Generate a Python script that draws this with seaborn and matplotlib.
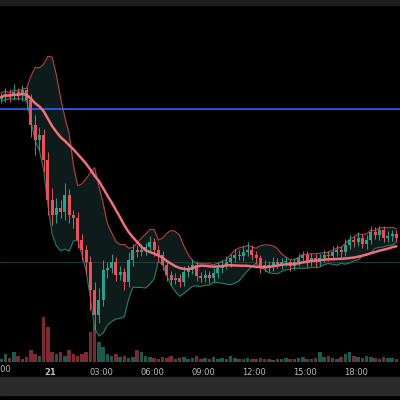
import numpy as np
import pandas as pd
import matplotlib
matplotlib.use("Agg")
import matplotlib.pyplot as plt
import seaborn as sns
from matplotlib.patches import Rectangle

# close prices (chart units, 15-min candles starting 21:00)
close_y = [97, 94, 96, 92, 95, 90, 100, 125, 140, 135, 160, 200, 215, 208, 212, 195,
           215, 218, 240, 250, 262, 290, 315, 300, 270, 268, 262, 275, 272, 282, 260, 250,
           252, 250, 247, 242, 250, 255, 265, 275, 280, 278, 282, 272, 270, 265, 276, 278,
           275, 278, 273, 268, 265, 262, 258, 255, 256, 252, 250, 255, 258, 268, 265, 267,
           262, 264, 262, 262, 266, 262, 258, 255, 262, 258, 262, 258, 255, 256, 252, 250,
           252, 245, 240, 242, 238, 244, 240, 232, 235, 230, 238, 236, 234, 238]
wick_up = [4, 6, 5, 8, 4, 5, 3, 6, 10, 8, 6, 8, 12, 10, 8, 12, 6, 5, 6, 6, 5, 6, 8, 12,
           10, 6, 8, 5, 6, 4, 8, 6, 5, 6, 4, 6, 4, 5, 4, 3, 4, 5, 4, 6, 5, 6, 4, 4,
           5, 4, 5, 6, 5, 6, 4, 6, 5, 6, 8, 5, 4, 3, 5, 4, 5, 4, 4, 5, 3, 4, 5, 4,
           4, 5, 4, 4, 5, 4, 6, 5, 4, 6, 5, 4, 6, 4, 5, 6, 5, 4, 4, 5, 4, 4]
wick_dn = [4, 5, 6, 4, 5, 6, 10, 12, 15, 10, 12, 15, 10, 8, 6, 8, 8, 10, 8, 10, 12, 20, 15, 8,
           6, 8, 5, 6, 5, 8, 5, 6, 5, 4, 5, 5, 6, 6, 5, 6, 5, 4, 5, 4, 5, 4, 5, 4,
           4, 5, 4, 5, 5, 4, 5, 4, 4, 5, 4, 5, 6, 5, 4, 5, 4, 4, 5, 4, 5, 4, 4, 5,
           5, 4, 5, 4, 4, 5, 4, 4, 5, 4, 4, 5, 4, 4, 5, 4, 4, 5, 4, 4, 5, 4]
volume = [3, 8, 4, 10, 6, 3, 5, 12, 8, 6, 45, 35, 10, 8, 10, 6, 12, 8, 6, 8, 10, 30, 40, 20,
          15, 8, 6, 8, 5, 6, 4, 5, 12, 10, 6, 5, 4, 3, 5, 4, 6, 3, 4, 5, 3, 4, 6, 3,
          4, 3, 5, 3, 4, 3, 6, 4, 3, 3, 4, 3, 3, 4, 3, 3, 2, 3, 3, 4, 3, 3, 4, 5,
          3, 3, 4, 10, 5, 6, 4, 3, 5, 8, 10, 6, 5, 4, 6, 5, 4, 3, 5, 4, 4, 3]
tick_labels = ["21", "03:00", "06:00", "09:00", "12:00", "15:00", "18:00"]
tick_hours = [3, 6, 9, 12, 15, 18, 21]

df = pd.DataFrame({"close": 400 - np.array(close_y, float)})
df["open"] = df["close"].shift(1).fillna(df["close"].iloc[0] - 2)
df["high"] = np.maximum(df["open"], df["close"]) + np.array(wick_up)
df["low"] = np.minimum(df["open"], df["close"]) - np.array(wick_dn)
df["vol"] = volume
df["t"] = 0.125 + 0.25 * np.arange(len(df))
df["ma"] = df["close"].rolling(24, min_periods=1).mean()
mid = df["close"].rolling(8, min_periods=1).mean()
sd = df["close"].rolling(8, min_periods=2).std().bfill()
df["up"] = mid + 2 * sd
df["dn"] = mid - 2 * sd

sns.set_style("dark")
fig = plt.figure(figsize=(4, 4), dpi=100, facecolor="black")
ax = fig.add_axes([0, 0.095, 1, 0.8925])
ax.set_xlim(1 / 17, 401 / 17)
ax.set_ylim(400 - 362, 400 - 5)
for s in ax.spines.values():
    s.set_visible(False)
ax.grid(False)

vax = ax.twinx()
vax.set_ylim(0, 357)
vax.set_yticks([])
vax.grid(False)
vax.set_facecolor("black")
for s in vax.spines.values():
    s.set_visible(False)
vax.set_zorder(0)
ax.set_zorder(1)
ax.patch.set_visible(False)

up_c, dn_c = "#26a18a", "#e8505e"
vcol = ["#1d5a4d" if c >= o else "#7a2a32" for c, o in zip(df["close"], df["open"])]
vax.bar(df["t"], df["vol"], width=0.2, color=vcol, linewidth=0)

ax.fill_between(df["t"], df["dn"], df["up"], color="#0d1c1a", zorder=1, linewidth=0)
ax.plot(df["t"], df["up"], color="#b8404c", lw=0.8, zorder=2)
ax.plot(df["t"], df["dn"], color="#2a7a66", lw=0.8, zorder=2)
ax.axhline(400 - 109, color="#2962ff", lw=1.2, zorder=3)
ax.axhline(400 - 262, color="#1f3b36", lw=0.8, zorder=1)

cols = [up_c if c >= o else dn_c for c, o in zip(df["close"], df["open"])]
ax.vlines(df["t"], df["low"], df["high"], colors=cols, lw=0.7, zorder=4)
ax.bar(df["t"], (df["close"] - df["open"]).abs().clip(lower=0.8),
       bottom=np.minimum(df["open"], df["close"]), width=0.18, color=cols,
       linewidth=0, zorder=4)
sns.lineplot(x=df["t"], y=df["ma"], ax=ax, color="#f07078", lw=1.8, zorder=5)
ax.set_xlabel("")
ax.set_ylabel("")
ax.set_yticks([])
ax.set_xticks(tick_hours)
ax.set_xticklabels(tick_labels)
ax.tick_params(axis="x", colors="#bbbbbb", labelsize=6, length=0, pad=4)
for lbl in ax.get_xticklabels():
    if lbl.get_text() == "21":
        lbl.set_fontweight("bold")
fig.text(-1 / 400, 0.075, "21:00", color="#bbbbbb", fontsize=6, ha="center", va="center")

fig.patches.append(Rectangle((0, 0.0125), 1, 0.045, transform=fig.transFigure,
                             color="#2a2a2a", zorder=0))
fig.patches.append(Rectangle((0, 0.9875), 1, 0.0125, transform=fig.transFigure,
                             color="#1e1e1e", zorder=0))
fig.savefig("out.png", dpi=100, facecolor="black")
